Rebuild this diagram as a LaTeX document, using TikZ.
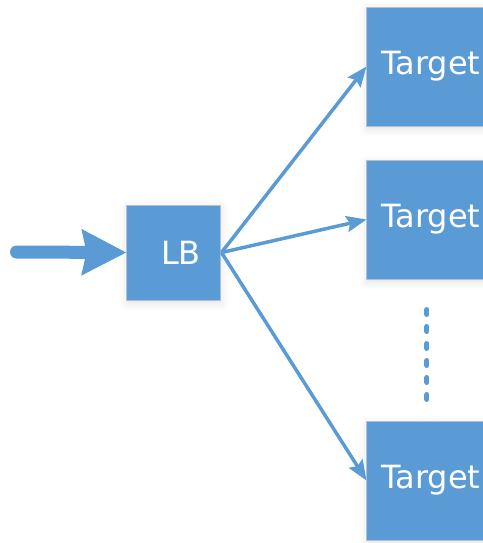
\documentclass[tikz,border=0pt]{standalone}
\usepackage{fontspec}
\setsansfont{DejaVu Sans}
\usetikzlibrary{arrows.meta,shadows.blur}
\definecolor{lbazul}{HTML}{5B9BD5}
\definecolor{lbborde}{HTML}{B4C2D0}

\begin{document}
\begin{tikzpicture}[x=0.5pt, y=-0.5pt,
    caja/.style={draw=lbborde, line width=0.5pt, fill=lbazul, text=white, inner sep=0pt,
        font=\sffamily\fontsize{16}{19}\selectfont,
        blur shadow={shadow xshift=0pt, shadow yshift=-1.5pt, shadow blur radius=4pt, shadow opacity=12}},
    destino/.style={caja, minimum width=64pt, minimum height=59.5pt},
    flecha/.style={lbazul, line width=1.75pt, -{Stealth[length=10pt, width=8pt, inset=1.5pt]}}]
    \useasboundingbox (0,0) rectangle (483,543);
    \clip (0,0) rectangle (483,543);

    % Balanceador y destinos
    \node[caja, minimum width=47pt, minimum height=47.5pt] (lb) at (174,252.5) {\hspace*{7pt}LB};
    \node[destino] (t1) at (431,66.5) {Target};
    \node[destino] (t2) at (431,219.5) {Target};
    \node[destino] (t3) at (431,480.5) {Target};

    % Entrada
    \coordinate (entrada) at (16.5,252);
    \draw[lbazul, line width=6.5pt, line cap=round, -{Stealth[length=22pt, width=22pt, inset=2pt]}]
        (entrada) -- (lb.west);

    % Conexiones
    \draw[flecha] (lb.east) -- (t1.west);
    \draw[flecha] (lb.east) -- (t2.west);
    \draw[flecha] (lb.east) -- (t3.west);

    % Puntos suspensivos
    \draw[lbazul, line width=2.5pt, line cap=round, dash pattern=on 2.5pt off 6pt] (427,309.5) -- (427,400);
\end{tikzpicture}
\end{document}
